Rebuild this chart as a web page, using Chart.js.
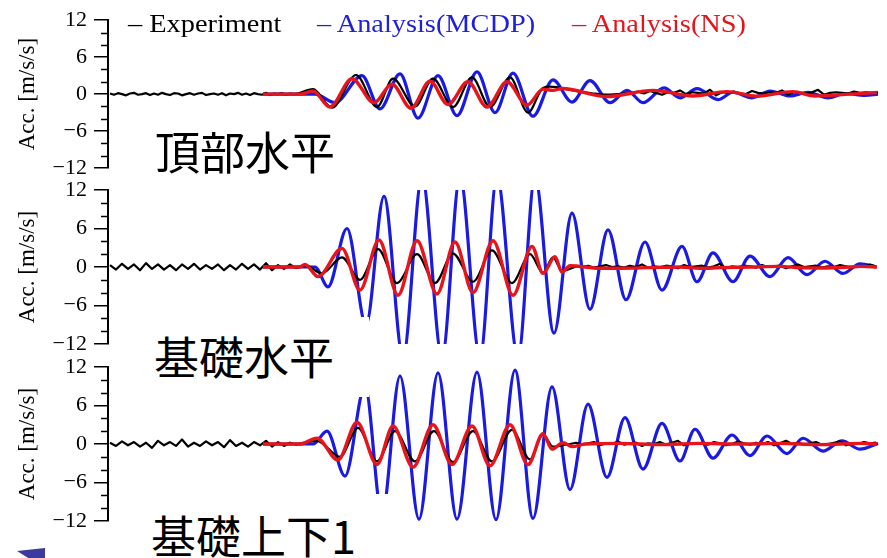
<!DOCTYPE html>
<html><head><meta charset="utf-8">
<script src="https://cdn.jsdelivr.net/npm/chart.js@4.4.1/dist/chart.umd.min.js"></script>
<style>
html,body{margin:0;padding:0;background:#fff;}
#wrap{position:relative;width:887px;height:558px;overflow:hidden;background:#fff;}
#wrap canvas{position:absolute;left:0;top:0;}
.box{position:absolute;background:#fff;}
.lab{position:absolute;font-family:"Noto Sans CJK JP";font-size:45px;line-height:45px;color:#000;white-space:nowrap;}
.leg{position:absolute;top:11px;font-family:"Liberation Serif";font-size:26px;line-height:26px;white-space:nowrap;transform:scaleX(1.09);transform-origin:left top;}
#tri{position:absolute;left:17px;top:548px;width:28px;height:10px;background:#3b3b9e;clip-path:polygon(0 30%,100% 0,100% 100%,40% 100%);}
</style></head>
<body>
<div id="wrap">
<canvas id="c1" width="887" height="558"></canvas>
<canvas id="c2" width="887" height="558"></canvas>
<canvas id="c3" width="887" height="558"></canvas>
<div class="leg" style="left:128px;color:#000">– Experiment</div>
<div class="leg" style="left:317px;color:#2020d8">– Analysis(MCDP)</div>
<div class="leg" style="left:572px;color:#e3141b">– Analysis(NS)</div>
<div class="box" style="left:150px;top:126px;width:190px;height:50px"></div>
<div class="lab" style="left:155px;top:128px">頂部水平</div>
<div class="box" style="left:148px;top:317px;width:221px;height:80px"></div>
<div class="lab" style="left:154px;top:333px">基礎水平</div>
<div class="box" style="left:148px;top:494px;width:244px;height:64px"></div>
<div class="lab" style="left:151px;top:512px">基礎上下1</div>
<div id="tri"></div>
</div>
<script>
// ---------- data (time in s, acceleration in m/s/s) ----------
const Y_TICKS = [12, 6, 0, -6, -12];
const Y_MINOR = [10, 8, 4, 2, -2, -4, -8, -10];
const LEGEND = ['Experiment', 'Analysis(MCDP)', 'Analysis(NS)'];
const PANEL_LABELS = ['頂部水平', '基礎水平', '基礎上下1'];

// 頂部水平
const TOP_NS_T = [7.75,9.6,10.25,11.1,12.2,13.3,14.2,15.15,16.1,17.0,18.0,18.95,19.95,20.95,21.75,22.25,22.7,24.95,27.25,29.25,30.95,32.45,34.25,35.35,37.1,38.45];
const TOP_NS_V = [0,0,0.5,-2.1,2.5,-1.4,1.6,-2.3,2.1,-1.7,2.0,-2.1,2.0,-1.8,0.8,0.6,0.9,-0.4,0.6,-0.3,0.4,-0.35,0.4,-0.3,0.0,0.25];
const TOP_MCDP_T = [7.75,10.35,11.35,12.7,13.6,14.6,15.5,16.5,17.45,18.45,19.35,20.25,21.25,22.25,23.2,24.1,25.1,25.95,26.75,27.8,28.6,29.45,30.5,31.25,32.2,33.1,34.1,35.0,36.0,36.85,37.85,38.5];
const TOP_MCDP_V = [0,0,-1.4,3.0,-2.4,3.3,-3.9,3.0,-3.5,3.6,-3.0,3.4,-3.6,2.3,-1.3,2.2,-1.4,0.6,-1.4,1.0,-0.6,0.9,-0.9,0.3,-0.6,0.5,-0.3,0.3,-0.6,0.1,-0.2,0.0];
const TOP_EXP_T = [9.5,10.25,11.2,12.4,13.45,14.25,15.35,16.25,17.25,18.2,19.1,20.1,21.0,21.75,22.1,23.25,24.25,24.95,26.2];
const TOP_EXP_V = [0.1,0.8,-2.2,3.1,-2.1,2.5,-2.0,2.5,-2.1,2.7,-2.1,2.7,-3.0,1.0,1.2,0.6,0.1,-0.1,0.2];
const TOP_EXP_PRE = [0.1,-0.1,0.15,0.0,-0.2,0.1,0.2,-0.1,0.0,0.15,-0.15,0.1,-0.1,0.2,0.0,-0.15,0.15,0.1,-0.2,0.0,0.15,-0.1,0.1,0.2,-0.15,0.0,0.1,-0.1,0.15,-0.2,0.1,0.0,0.2,-0.1,0.1,-0.15,0.15,0.0,-0.1,0.2,-0.15,0.1,0.0,0.15,-0.1,0.1,0.0,0.1];
const TOP_EXP_POST = [0.2,0.4,0.1,0.5,0.2,-0.1,0.3,0.2,0.6,0.0,0.3,0.2,0.1,0.7,-0.2,0.3,0.2,0.4,0.1,0.0,0.5,0.2,0.1,0.3,0.2,0.6,-0.1,0.3,0.2,0.1,0.3,0.7,-0.1,0.2,0.3,0.2,0.1,0.4,0.2,0.3,0.2,0.3];

// 基礎水平
const MID_NS_T = [7.75,9.6,9.85,10.5,11.7,12.6,13.55,14.5,15.45,16.45,17.35,18.25,19.25,20.25,21.2,21.75,22.35,22.7,23.1,24.6,25.6,27.1,28.6,29.6,30.6,32.1,33.6,34.6,35.6,37.1,37.6,38.45];
const MID_NS_V = [0,0,0.4,-1.5,2.9,-3.6,4.2,-4.4,4.1,-4.2,3.9,-4.0,4.1,-4.4,3.2,-1.0,1.6,-0.8,0.2,-0.2,-0.2,-0.1,0.0,-0.2,-0.1,0.0,0.1,-0.1,-0.15,0.0,0.1,0.0];
const MID_MCDP_T = [7.75,10.35,11.0,11.95,12.9,13.8,14.75,15.7,16.7,17.6,18.6,19.45,20.5,21.35,22.3,23.2,24.1,25.0,25.9,26.85,27.7,28.7,29.45,30.25,31.25,32.1,33.1,34.0,34.95,35.85,36.75,37.6,38.4];
const MID_MCDP_V = [0,0,-3.1,6.0,-9.0,11.0,-14,14,-14,14,-14,14,-14,14,-10.3,8.4,-6.6,5.8,-5.1,3.9,-3.6,3.2,-2.3,2.2,-2.3,1.7,-1.5,1.45,-1.2,0.9,-1.0,0.5,0.0];
const MID_EXP_T = [9.4,9.85,10.7,11.7,12.6,13.5,14.45,15.45,16.35,17.25,18.25,19.2,20.2,21.1,21.75,22.25,22.7,23.4];
const MID_EXP_V = [-0.2,0.3,-1.0,1.5,-2.0,2.8,-2.5,2.0,-2.5,2.1,-2.3,2.6,-2.5,2.0,-0.9,1.5,-0.6,0.1];
const MID_EXP_PRE = [0.3,-0.4,0.5,-0.3,0.4,-0.5,0.6,-0.3,0.4,-0.4,0.3,-0.5,0.4,-0.3,0.5,-0.4,0.3,-0.3,0.4,-0.5,0.3,-0.4,0.5,-0.3,0.4,-0.4,0.6,-0.5,0.3,-0.3,0.4,-0.2];
const MID_EXP_POST = [0.1,0.0,0.2,-0.1,0.1,0.3,0.0,0.1,-0.1,0.2,0.0,0.4,-0.1,0.1,0.0,0.2,0.1,-0.2,0.3,0.0,0.1,0.2,-0.1,0.1,0.5,-0.2,0.1,0.0,0.2,0.1,-0.1,0.3,0.0,0.1,0.2,-0.2,0.1,0.4,0.0,0.1,0.2,-0.1,0.1,0.0,0.3,0.1,-0.1,0.2,0.0,0.4,0.1];

// 基礎上下1
const BOT_NS_T = [7.75,9.6,10.45,11.5,12.45,13.45,14.25,15.25,16.25,17.2,18.2,19.1,20.1,21.0,21.75,22.2,22.75,23.2,23.85,25.6,27.6,29.6,31.6,33.6,35.6,37.6,38.45];
const BOT_NS_V = [0,0,0.9,-2.5,3.4,-3.2,2.8,-3.6,3.0,-3.2,2.8,-3.4,3.0,-3.2,1.6,-0.8,0.2,-0.4,0.0,0.1,-0.1,0.1,0.0,0.1,-0.1,0.1,0.0];
const BOT_MCDP_T = [7.75,10.25,10.95,11.85,12.85,13.7,14.6,15.55,16.5,17.45,18.45,19.4,20.35,21.25,22.2,23.1,24.0,24.95,25.85,26.75,27.7,28.6,29.35,30.25,31.2,32.1,32.95,33.95,34.75,35.75,36.7,37.6,38.5];
const BOT_MCDP_V = [0,0,2.0,-5.0,9.0,-11.0,10.6,-11.7,11.1,-11.7,11.2,-11.8,11.5,-11.6,8.9,-7.1,6.2,-5.2,4.1,-3.9,3.2,-2.65,2.3,-2.2,1.4,-1.8,1.25,-1.5,0.9,-1.1,0.5,-0.8,0.1];
const BOT_EXP_T = [9.4,10.45,11.6,12.5,13.45,14.35,15.35,16.3,17.25,18.25,19.2,20.2,21.1,21.75,22.25,23.1];
const BOT_EXP_V = [-0.1,0.5,-2.0,2.5,-2.7,2.0,-2.7,2.0,-2.8,2.0,-2.7,2.2,-2.4,1.5,-0.4,0.0];
const BOT_EXP_PRE = [0.2,-0.3,0.4,-0.2,0.3,-0.4,0.2,-0.6,0.5,-0.2,0.3,-0.3,0.7,-0.4,0.2,-0.3,0.4,-0.2,0.3,-0.5,0.6,-0.3,0.2,-0.4,0.3,-0.2,0.5,-0.4,0.3,-0.3,0.2,-0.1];
const BOT_EXP_POST = [0.0,0.2,-0.1,0.1,0.3,-0.2,0.1,0.0,0.4,-0.1,0.1,0.2,-0.3,0.1,0.0,0.3,-0.1,0.2,0.5,-0.2,0.1,0.0,0.2,-0.1,0.3,0.1,-0.2,0.0,0.4,0.1,-0.1,0.2,0.0,0.3,-0.2,0.1,0.5,0.0,0.2,-0.1,0.1,0.3,-0.1,0.0,0.2,0.4,-0.2,0.1,0.0,0.3,0.1,0.2];

// sampling of the recorded noise stretches: [start time, step]
const TOP_PRE_SAMPLING = [0.1, 0.2], TOP_POST_SAMPLING = [26.2, 0.3];
const MID_PRE_SAMPLING = [0.1, 0.3], MID_POST_SAMPLING = [23.4, 0.3];
const BOT_PRE_SAMPLING = [0.1, 0.3], BOT_POST_SAMPLING = [23.1, 0.3];

// ---------- helpers ----------
function pairs(ts, vs){ return ts.map((t,i)=>({x:t, y:vs[i]})); }
function sampled(s, vs){ return vs.map((v,i)=>({x:+(s[0]+i*s[1]).toFixed(3), y:v})); }

const COLORS = {exp:'#000000', mcdp:'#1a1ae0', ns:'#e8141b'};

const minorTicks = {
  id:'minorTicks',
  afterDraw(chart){
    const y = chart.scales.y, ctx = chart.ctx, x0 = chart.chartArea.left;
    ctx.save(); ctx.strokeStyle='#000'; ctx.lineWidth=1.5;
    Y_MINOR.forEach(v=>{ const py = Math.round(y.getPixelForValue(v))+0.5;
      ctx.beginPath(); ctx.moveTo(x0-7,py); ctx.lineTo(x0,py); ctx.stroke(); });
    ctx.restore();
  }
};

function panel(id, padTop, padBottom, ns, expPre, exp, expPost, mcdp){
  const expStyle = {borderColor:COLORS.exp, borderWidth:2.2};
  new Chart(document.getElementById(id), {
    type:'line',
    data:{datasets:[
      {label:LEGEND[2], data:ns, borderColor:COLORS.ns, borderWidth:3.4},
      Object.assign({label:LEGEND[0], data:exp}, expStyle),
      Object.assign({label:LEGEND[0], data:expPre, cubicInterpolationMode:'default', tension:0}, expStyle),
      Object.assign({label:LEGEND[0], data:expPost, cubicInterpolationMode:'default', tension:0, borderWidth:1.8}, expStyle),
      {label:LEGEND[1], data:mcdp, borderColor:COLORS.mcdp, borderWidth:3.2}
    ]},
    options:{
      responsive:false, animation:false, devicePixelRatio:1,
      layout:{padding:{left:0, right:7, top:padTop, bottom:padBottom}},
      elements:{point:{radius:0}, line:{cubicInterpolationMode:'monotone', borderJoinStyle:'round'}},
      plugins:{legend:{display:false}, tooltip:{enabled:false}},
      scales:{
        x:{type:'linear', min:0, max:38.6, display:false},
        y:{type:'linear', min:-12, max:12,
           afterBuildTicks(s){ s.ticks = Y_TICKS.map(v=>({value:v})); },
           afterFit(s){ s.width = 108; },
           ticks:{padding:7, color:'#000', font:{family:'Liberation Serif', size:22},
                  callback:v=>String(v).replace('-','\u2212')},
           grid:{drawOnChartArea:false, drawTicks:true, tickLength:14, color:'#000', lineWidth:1.5},
           border:{display:true, color:'#000', width:2},
           title:{display:true, text:'Acc. [m/s/s]', color:'#000', font:{family:'Liberation Serif', size:23}, padding:{top:14, bottom:0}}
        }
      }
    },
    plugins:[minorTicks]
  });
}

panel('c1', 14, 558-168,
  pairs(TOP_NS_T, TOP_NS_V),
  sampled(TOP_PRE_SAMPLING, TOP_EXP_PRE), pairs(TOP_EXP_T, TOP_EXP_V), sampled(TOP_POST_SAMPLING, TOP_EXP_POST),
  pairs(TOP_MCDP_T, TOP_MCDP_V));
panel('c2', 190, 558-344,
  pairs(MID_NS_T, MID_NS_V),
  sampled(MID_PRE_SAMPLING, MID_EXP_PRE), pairs(MID_EXP_T, MID_EXP_V), sampled(MID_POST_SAMPLING, MID_EXP_POST),
  pairs(MID_MCDP_T, MID_MCDP_V));
panel('c3', 367, 558-521,
  pairs(BOT_NS_T, BOT_NS_V),
  sampled(BOT_PRE_SAMPLING, BOT_EXP_PRE), pairs(BOT_EXP_T, BOT_EXP_V), sampled(BOT_POST_SAMPLING, BOT_EXP_POST),
  pairs(BOT_MCDP_T, BOT_MCDP_V));
</script>
</body></html>
